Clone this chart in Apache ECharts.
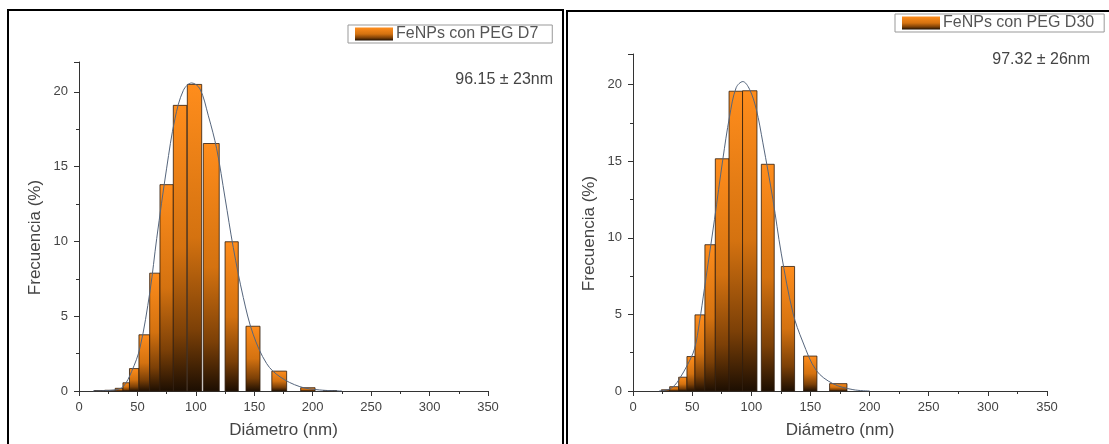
<!DOCTYPE html>
<html>
<head>
<meta charset="utf-8">
<script src="https://cdn.jsdelivr.net/npm/echarts@6/dist/echarts.min.js"></script>
<style>html,body{margin:0;padding:0;background:#fff;}#c{width:1109px;height:444px;}</style>
</head>
<body>
<div id="c"></div>
<script>
// ---- Data (diameter in nm, frequency in %) ----
const seriesNames = ['FeNPs con PEG D7', 'FeNPs con PEG D30'];
const statLabels = ['96.15 \u00b1 23nm', '97.32 \u00b1 26nm'];
const xTickLabels = [0, 50, 100, 150, 200, 250, 300, 350];
const yTickLabels = [0, 5, 10, 15, 20];

// D7 histogram bins
const d7BinStart = [13, 22, 31, 37.6, 43.2, 51.3, 60.5, 69.3, 80.7, 92.7, 106.4, 125, 142.9, 165, 189.7, 209];
const d7BinEnd   = [22, 31, 37.6, 43.2, 51.3, 60.5, 69.3, 80.7, 92.3, 105, 120, 136.3, 154.9, 177.7, 202, 220.5];
const d7Freq     = [0.03, 0.05, 0.18, 0.55, 1.5, 3.76, 7.88, 13.8, 19.1, 20.5, 16.55, 9.98, 4.33, 1.33, 0.22, 0.03];
// D7 fit curve
const d7FitX = [12, 30.8, 37.9, 45, 52.2, 60.8, 66.5, 75, 82.1, 89.3, 96.4, 103.5, 110.7, 117.8, 125, 132, 140.6, 149, 160.6, 172, 189, 206, 225];
const d7FitY = [0, 0.07, 0.3, 1.3, 2.9, 6.7, 10.2, 14.9, 18.2, 20.1, 20.6, 20.2, 18.4, 16.2, 12.9, 9.6, 6.25, 3.8, 1.83, 0.95, 0.29, 0.07, 0];

// D30 histogram bins
const d30BinStart = [24, 31, 38.6, 45.6, 52.4, 60.8, 69.6, 81.2, 92.6, 108.5, 125.4, 144.2, 166.2];
const d30BinEnd   = [31, 38.6, 45.6, 52.4, 60.8, 69.6, 81.2, 92.6, 104.8, 119.4, 136.6, 155.5, 180.9];
const d30Freq     = [0.08, 0.28, 0.9, 2.25, 4.97, 9.55, 15.16, 19.57, 19.6, 14.8, 8.13, 2.28, 0.48];
// D30 fit curve
const d30FitX = [22, 30, 35, 39.3, 46, 52, 56.2, 60.4, 68.9, 75.9, 81.6, 87.2, 92.9, 98.5, 104.2, 109.8, 118.3, 125.3, 135.2, 143.6, 154.9, 169, 185.9, 200];
const d30FitY = [0, 0.1, 0.35, 0.8, 1.7, 2.75, 4.5, 6.7, 11.2, 15.1, 17.9, 19.8, 20.2, 19.7, 18.4, 16.2, 12.5, 9, 5.1, 3.2, 1.35, 0.48, 0.09, 0];

// ---- Build ----
function zip3(a, b, c) { return a.map((v, i) => [v, b[i], c[i]]); }
function zip2(a, b) { return a.map((v, i) => [v, b[i]]); }
function barGrad() {
  return new echarts.graphic.LinearGradient(0, 0, 0, 1, [
    { offset: 0, color: '#ff8d1c' },
    { offset: 0.5, color: '#d47210' },
    { offset: 0.8, color: '#7c4007' },
    { offset: 1, color: '#1c0e02' }
  ]);
}
const FONT = 'Liberation Sans';
const axisColor = '#333';
const labelColor = '#444';

function renderBar(params, api) {
  const s = api.coord([api.value(0), api.value(2)]);
  const e = api.coord([api.value(1), 0]);
  return {
    type: 'rect',
    shape: { x: s[0], y: s[1], width: e[0] - s[0], height: e[1] - s[1] },
    style: { fill: barGrad(), stroke: '#2e1c0c', lineWidth: 0.8 }
  };
}

function xAxisDef(gi) {
  return {
    type: 'value', gridIndex: gi, min: 0, max: 350, interval: 50,
    name: 'Di\u00e1metro (nm)', nameLocation: 'middle', nameGap: 31,
    nameTextStyle: { fontFamily: FONT, fontSize: 17, color: labelColor },
    axisLine: { show: true, onZero: false, lineStyle: { color: axisColor, width: 1 } },
    axisTick: { show: true, length: 5, lineStyle: { color: axisColor } },
    minorTick: { show: true, splitNumber: 2, length: 3, lineStyle: { color: axisColor } },
    axisLabel: { fontFamily: FONT, fontSize: 13, color: labelColor, margin: 10,
      formatter: v => xTickLabels.indexOf(v) >= 0 ? String(v) : '' },
    splitLine: { show: false }
  };
}
function yAxisDef(gi) {
  return {
    type: 'value', gridIndex: gi, min: 0, max: 22, interval: 5,
    name: 'Frecuencia (%)', nameLocation: 'middle', nameGap: 35,
    nameTextStyle: { fontFamily: FONT, fontSize: 17, color: labelColor, padding: [0, 22, 0, 0] },
    axisLine: { show: true, lineStyle: { color: axisColor, width: 1 } },
    axisTick: { show: true, length: 5, lineStyle: { color: axisColor } },
    minorTick: { show: true, splitNumber: 2, length: 3, lineStyle: { color: axisColor } },
    axisLabel: { fontFamily: FONT, fontSize: 13, color: labelColor, margin: 11, showMaxLabel: false,
      formatter: v => yTickLabels.indexOf(v) >= 0 ? String(v) : '' },
    splitLine: { show: false }
  };
}
function legendDef(name, left, top, padRight) {
  return {
    left: left, top: top, orient: 'horizontal',
    data: [{ name: name, icon: 'rect', itemStyle: { color: barGrad(), borderWidth: 0 } }],
    itemWidth: 38, itemHeight: 13, itemGap: 4,
    borderColor: '#999', borderWidth: 1, padding: [1, padRight, 1, 7],
    textStyle: { fontFamily: FONT, fontSize: 16, color: '#555', padding: [0, 0, 0, -2] },
    selectedMode: false
  };
}

const chart = echarts.init(document.getElementById('c'), null, { renderer: 'canvas' });
chart.setOption({
  animation: false,
  backgroundColor: '#fff',
  grid: [
    { left: 79, top: 62, width: 409, height: 333 },
    { left: 633, top: 54, width: 414, height: 338 }
  ],
  xAxis: [xAxisDef(0), xAxisDef(1)],
  yAxis: [yAxisDef(0), yAxisDef(1)],
  legend: [legendDef(seriesNames[0], 348, 25, 14), legendDef(seriesNames[1], 895, 14, 10)],
  graphic: [
    { type: 'rect', shape: { x: 8, y: 10, width: 555, height: 460 }, style: { fill: 'none', stroke: '#000', lineWidth: 2 }, silent: true },
    { type: 'rect', shape: { x: 567, y: 11, width: 560, height: 460 }, style: { fill: 'none', stroke: '#000', lineWidth: 2 }, silent: true },
    { type: 'text', right: 1109 - 553, top: 72, style: { text: statLabels[0], font: '16px "Liberation Sans"', fill: '#444' } },
    { type: 'text', right: 1109 - 1090, top: 52, style: { text: statLabels[1], font: '16px "Liberation Sans"', fill: '#444' } }
  ],
  series: [
    { type: 'custom', name: seriesNames[0], xAxisIndex: 0, yAxisIndex: 0, renderItem: renderBar,
      encode: { x: [0, 1], y: 2 }, data: zip3(d7BinStart, d7BinEnd, d7Freq), itemStyle: { color: '#e07812' } },
    { type: 'line', name: 'fit D7', xAxisIndex: 0, yAxisIndex: 0, data: zip2(d7FitX, d7FitY),
      smooth: 0.35, symbol: 'none', lineStyle: { color: '#55657c', width: 1 }, z: 5 },
    { type: 'custom', name: seriesNames[1], xAxisIndex: 1, yAxisIndex: 1, renderItem: renderBar,
      encode: { x: [0, 1], y: 2 }, data: zip3(d30BinStart, d30BinEnd, d30Freq), itemStyle: { color: '#e07812' } },
    { type: 'line', name: 'fit D30', xAxisIndex: 1, yAxisIndex: 1, data: zip2(d30FitX, d30FitY),
      smooth: 0.35, symbol: 'none', lineStyle: { color: '#55657c', width: 1 }, z: 5 }
  ]
});
</script>
</body>
</html>
